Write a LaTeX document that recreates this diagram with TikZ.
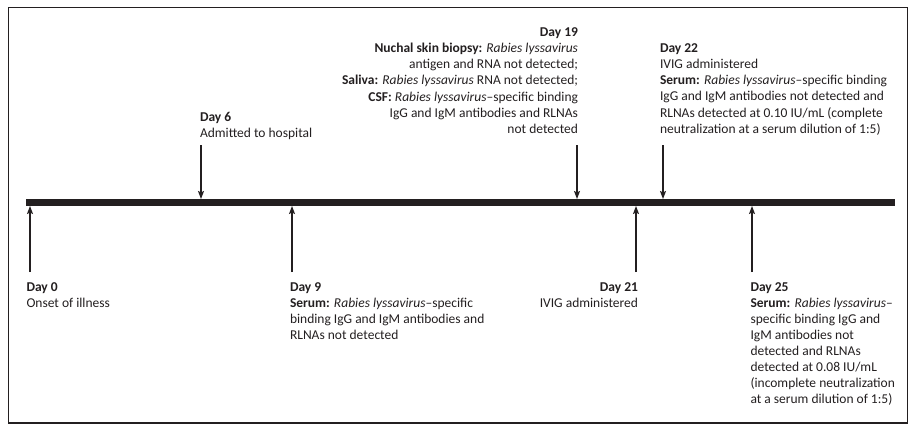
\documentclass[tikz,border=0pt]{standalone}
\usepackage{fontspec}
\setmainfont{Carlito}
\usetikzlibrary{arrows.meta}
\definecolor{ink}{RGB}{35,31,32}
\newcommand\mystrut{\rule{0pt}{12bp}}
\begin{document}
\begin{tikzpicture}[x=1bp,y=-1bp,
  lbl/.style={inner sep=0pt, outer sep=0pt, text=ink, font=\fontsize{13.5bp}{16.1bp}\selectfont},
  lblL/.style={lbl, align=left, anchor=north west},
  lblR/.style={lbl, align=right, anchor=north east},
  arr/.style={draw=ink, line width=1.3bp, -{Stealth[length=8bp,width=6bp,inset=1.5bp]}},
  framebox/.style={draw=ink, line width=1.5bp},
  bar/.style={fill=ink},
]
\useasboundingbox (0,0) rectangle (918,431);
\draw[framebox] (8.3,7.3) rectangle (907.3,423);
\fill[bar] (26,199) rectangle (895,206);

% top arrow coordinates
\coordinate (s6) at (201,145);  \coordinate (e6) at (201,199);
\coordinate (s19) at (577,145); \coordinate (e19) at (577,199);
\coordinate (s22) at (663,145); \coordinate (e22) at (663,199);
% bottom arrow coordinates
\coordinate (s0) at (30,272);   \coordinate (e0) at (30,206);
\coordinate (s9) at (292,272);  \coordinate (e9) at (292,206);
\coordinate (s21) at (636,272); \coordinate (e21) at (636,206);
\coordinate (s25) at (752,272); \coordinate (e25) at (752,206);

\foreach \k in {6,19,22,0,9,21,25} { \draw[arr] (s\k) -- (e\k); }

% labels above
\node[lblL] (d6) at (200,109) {\mystrut\textbf{Day 6}\\Admitted to hospital};
\node[lblR] (d19) at (578,24.6) {\mystrut\textbf{Day 19}\\
  \textbf{Nuchal skin biopsy:} \textit{Rabies lyssavirus}\\
  antigen and RNA not detected;\\
  \textbf{Saliva:} \textit{Rabies lyssavirus} RNA not detected;\\
  \textbf{CSF:} \textit{Rabies lyssavirus}–specific binding\\
  IgG and IgM antibodies and RLNAs\\
  not detected};
\node[lblL] (d22) at (660,40.6) {\mystrut\textbf{Day 22}\\
  IVIG administered\\
  \textbf{Serum:} \textit{Rabies lyssavirus}–specific binding\\
  IgG and IgM antibodies not detected and\\
  RLNAs detected at 0.10 IU/mL (complete\\
  neutralization at a serum dilution of 1:5)};

% labels below
\node[lblL] (d0) at (26.5,279) {\mystrut\textbf{Day 0}\\Onset of illness};
\node[lblL] (d9) at (290,279) {\mystrut\textbf{Day 9}\\
  \textbf{Serum:} \textit{Rabies lyssavirus}–specific\\
  binding IgG and IgM antibodies and\\
  RLNAs not detected};
\node[lblR] (d21) at (638,279) {\mystrut\textbf{Day 21}\\IVIG administered};
\node[lblL] (d25) at (750.5,279) {\mystrut\textbf{Day 25}\\
  \textbf{Serum:} \textit{Rabies lyssavirus}–\\
  specific binding IgG and\\
  IgM antibodies not\\
  detected and RLNAs\\
  detected at 0.08 IU/mL\\
  (incomplete neutralization\\
  at a serum dilution of 1:5)};
\end{tikzpicture}
\end{document}
